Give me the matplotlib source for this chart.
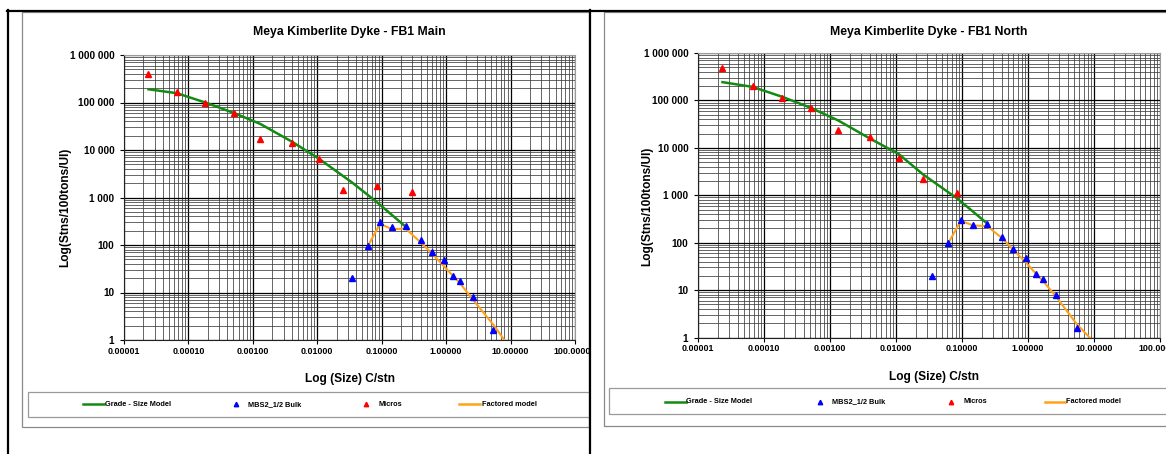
import numpy as np
import matplotlib.pyplot as plt
from matplotlib.lines import Line2D
from matplotlib.patches import Rectangle
from matplotlib.ticker import LogLocator, NullFormatter

W, H = 1166, 454

# FB1 Main
main_model_x = [2.4e-5, 6.6e-5, 1.83e-4, 5.1e-4, 1.3e-3, 4.1e-3, 0.0107, 0.035, 0.085, 0.235]
main_model_y = [190000, 157000, 100000, 60000, 35500, 14800, 6500, 2050, 790, 243]
main_bulk_x = [0.035, 0.061, 0.094, 0.144, 0.235, 0.40, 0.60, 0.92, 1.29, 1.62, 2.64, 5.4]
main_bulk_y = [20, 95, 300, 235, 250, 128, 71, 48, 22, 17.4, 8.0, 1.6]
main_micro_x = [2.4e-5, 6.6e-5, 1.83e-4, 5.1e-4, 1.29e-3, 4.1e-3, 0.0107, 0.0255, 0.086, 0.30]
main_micro_y = [400000, 168000, 100000, 60000, 17300, 13800, 6500, 1440, 1740, 1290]
main_fact_x = [0.061, 0.094, 0.144, 0.235, 0.40, 0.60, 0.92, 1.29, 1.62, 2.64, 5.4, 8.0]
main_fact_y = [95, 280, 215, 222, 114, 67, 36, 22, 16, 6.9, 2.1, 1.0]

# FB1 North
north_model_x = [2.35e-5, 6.7e-5, 1.86e-4, 5.1e-4, 1.32e-3, 4.1e-3, 0.011, 0.0257, 0.085, 0.24]
north_model_y = [243000, 193000, 120000, 70000, 38000, 15500, 7400, 2750, 850, 255]
north_bulk_x = [0.0355, 0.062, 0.096, 0.148, 0.24, 0.41, 0.60, 0.92, 1.32, 1.66, 2.7, 5.5]
north_bulk_y = [19.6, 98, 300, 235, 246, 130, 72, 48, 22, 17, 7.8, 1.6]
north_micro_x = [2.35e-5, 6.7e-5, 1.86e-4, 5.1e-4, 1.32e-3, 4.1e-3, 0.011, 0.0257, 0.085]
north_micro_y = [473000, 200000, 115000, 68000, 23400, 17000, 6100, 2240, 1130]
north_fact_x = [0.062, 0.096, 0.148, 0.24, 0.41, 0.60, 0.92, 1.32, 1.66, 2.7, 5.5, 8.6]
north_fact_y = [98, 290, 230, 224, 123, 70, 39, 22, 16, 7.1, 1.9, 1.0]

x_ticks = [1e-5, 1e-4, 1e-3, 1e-2, 1e-1, 1, 10, 100]
y_ticks = [1, 10, 100, 1000, 10000, 100000, 1000000]
legend_labels = ["Grade - Size Model", "MBS2_1/2 Bulk", "Micros", "Factored model"]

GREEN = '#138b13'
ORANGE = '#ffa21a'
RED = '#ff0000'
BLUE = '#0000ff'

plt.rcParams['font.family'] = ['Liberation Sans', 'DejaVu Sans']

fig = plt.figure(figsize=(W / 100, H / 100), dpi=100)


def fx(px):
    return px / W


def fy(py):
    return 1 - py / H


def panel(box, title, model, bulk, micro, fact, z):
    x0, y0, x1, y1 = box
    ax = fig.add_axes([fx(x0), fy(y1), fx(x1) - fx(x0), fy(y0) - fy(y1)], zorder=z)
    ax.set_xscale('log')
    ax.set_yscale('log')
    ax.set_xlim(1e-5, 100)
    ax.set_ylim(1, 1e6)
    ax.xaxis.set_minor_locator(LogLocator(base=10, subs=np.arange(2, 10), numticks=30))
    ax.yaxis.set_minor_locator(LogLocator(base=10, subs=np.arange(2, 10), numticks=30))
    ax.xaxis.set_minor_formatter(NullFormatter())
    ax.yaxis.set_minor_formatter(NullFormatter())
    ax.set_xticks(x_ticks)
    ax.set_xticklabels([f"{v:.5f}" for v in x_ticks], fontsize=6.4, fontweight='bold')
    ax.set_yticks(y_ticks)
    ax.set_yticklabels([f"{int(v):,}".replace(',', ' ') for v in y_ticks], fontsize=7.2, fontweight='bold')
    ax.tick_params(which='minor', length=0)
    ax.tick_params(axis='x', which='major', length=3, pad=2)
    ax.tick_params(axis='y', which='major', length=3, pad=4)
    ax.grid(which='major', color='black', lw=0.9)
    ax.grid(which='minor', color='#3c3c3c', lw=0.55)
    ax.set_axisbelow(True)
    for s in ['top', 'right']:
        ax.spines[s].set_color('#9a9a9a')
    for s in ['left', 'bottom']:
        ax.spines[s].set_color('#222222')

    ax.plot(model[0], model[1], color=GREEN, lw=1.8, zorder=3)
    ax.plot(fact[0], fact[1], color=ORANGE, lw=1.5, zorder=3)
    ax.plot(bulk[0], bulk[1], ls='none', marker='^', color=BLUE, ms=4.5, zorder=4)
    ax.plot(micro[0], micro[1], ls='none', marker='^', color=RED, ms=4.5, zorder=4)

    cx = (x0 + x1) / 2
    fig.text(fx(cx), fy(32), title, ha='center', va='center', fontsize=8.8, fontweight='bold', zorder=z)
    return ax


# left panel
panel((124, 55, 575, 340), "Meya Kimberlite Dyke - FB1 Main",
      (main_model_x, main_model_y), (main_bulk_x, main_bulk_y),
      (main_micro_x, main_micro_y), (main_fact_x, main_fact_y), 0)
fig.text(fx(350), fy(379), "Log (Size) C/stn", ha='center', va='center', fontsize=8.6, fontweight='bold')
fig.text(fx(65), fy(207), "Log(Stns/100tons/UI)", ha='center', va='center', rotation=90,
         fontsize=8.6, fontweight='bold')

# white cover so the right panel sits on top
fig.add_artist(Rectangle((fx(590), 0), 1 - fx(590), 1, facecolor='white', edgecolor='none', zorder=1))

# right panel
panel((698, 53, 1160, 337.5), "Meya Kimberlite Dyke - FB1 North",
      (north_model_x, north_model_y), (north_bulk_x, north_bulk_y),
      (north_micro_x, north_micro_y), (north_fact_x, north_fact_y), 2)
fig.text(fx(934), fy(377), "Log (Size) C/stn", ha='center', va='center', fontsize=8.6, fontweight='bold', zorder=2)
fig.text(fx(647), fy(206), "Log(Stns/100tons/UI)", ha='center', va='center', rotation=90,
         fontsize=8.6, fontweight='bold', zorder=2)


def box(x0, y0, x1, y1, color, z, fill='none', lw=0.9):
    fig.add_artist(Rectangle((fx(x0), fy(y1)), fx(x1) - fx(x0), fy(y0) - fy(y1),
                             facecolor=fill, edgecolor=color, lw=lw, zorder=z))


# chart area borders
box(22, 12, 589, 427, '#8a8a8a', 1.5)
box(604, 12, 1190, 425.7, '#8a8a8a', 3)

# legends
box(27.5, 391.7, 588.5, 416.7, '#9a9a9a', 1.5, fill='white')
box(609, 388, 1190, 414, '#9a9a9a', 3, fill='white')


def legend(y, line1, m1, m2, line2, z):
    yy = fy(y)
    kw = dict(fontsize=5.3, fontweight='bold', va='center', ha='left', zorder=z + 0.5)
    fig.add_artist(Line2D([fx(line1[0]), fx(line1[1])], [yy, yy], color=GREEN, lw=1.8, zorder=z + 0.5))
    fig.text(fx(line1[1] + 0.5), yy, legend_labels[0], **kw)
    fig.add_artist(Line2D([fx(m1)], [yy], ls='none', marker='^', color=BLUE, ms=3.2, zorder=z + 0.5))
    fig.text(fx(m1 + 12.5), yy, legend_labels[1], **kw)
    fig.add_artist(Line2D([fx(m2)], [yy], ls='none', marker='^', color=RED, ms=3.2, zorder=z + 0.5))
    fig.text(fx(m2 + 12.5), yy, legend_labels[2], **kw)
    fig.add_artist(Line2D([fx(line2[0]), fx(line2[1])], [yy, yy], color=ORANGE, lw=1.8, zorder=z + 0.5))
    fig.text(fx(line2[1] + 1.5), yy, legend_labels[3], **kw)


legend(404.3, (82.5, 104.3), 235.6, 366.4, (459, 480), 1.5)
legend(401.7, (665.3, 685.5), 819.6, 951, (1044.7, 1065), 3)

# outer black frame lines
for seg in [((7.5, 7.5), (10, 454)), ((7, 1166), (10.5, 10.5)), ((589.5, 589.5), (10, 454))]:
    fig.add_artist(Line2D([fx(v) for v in seg[0]], [fy(v) for v in seg[1]], color='black', lw=1.6, zorder=5))

fig.savefig('out.png', dpi=100)
